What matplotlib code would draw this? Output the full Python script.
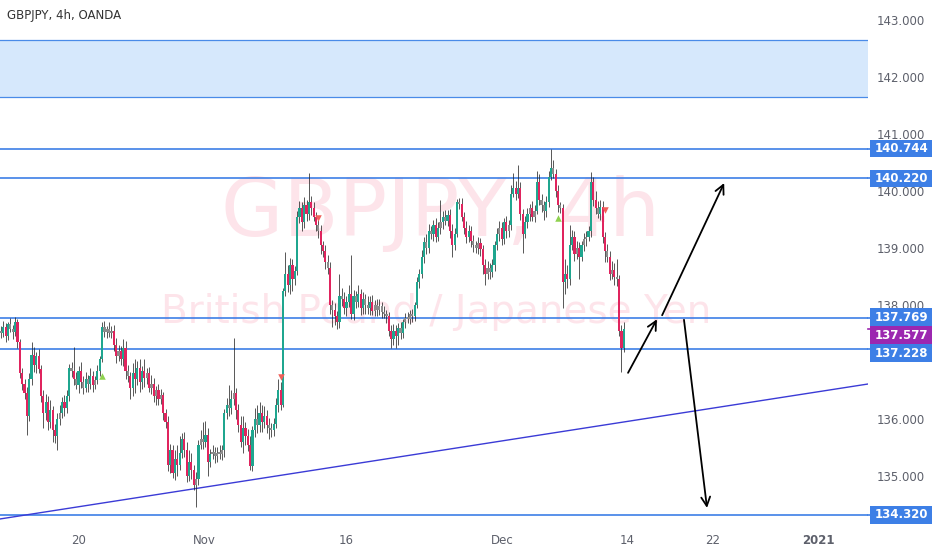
import matplotlib
matplotlib.use("Agg")
import matplotlib.pyplot as plt
import numpy as np
from matplotlib.patches import Rectangle
from matplotlib.transforms import blended_transform_factory

# ---------------- data ----------------
first_open = 137.55
closes = [
 137.50,137.62,137.45,137.66,137.58,137.52,137.70,137.35,136.80,136.62,
 136.45,136.05,136.70,137.12,136.95,137.10,136.88,136.40,136.10,136.30,
 135.95,136.15,135.80,135.70,136.00,136.10,136.30,136.20,136.40,136.90,
 136.85,136.70,136.60,136.85,136.65,136.55,136.70,136.62,136.75,136.60,
 136.68,136.85,137.05,137.62,137.52,137.58,137.50,137.55,137.30,137.10,
 137.20,137.05,137.25,136.85,136.75,136.55,136.80,136.70,136.90,136.65,
 136.85,136.72,136.80,136.55,136.62,136.40,136.50,136.35,136.42,136.10,
 135.95,135.20,135.45,135.05,135.30,135.20,135.40,135.65,135.45,135.00,
 135.25,135.10,134.85,134.95,135.55,135.65,135.60,135.72,135.25,135.38,
 135.42,135.35,135.40,135.38,135.45,136.10,136.25,136.20,136.35,136.45,
 136.15,135.90,135.60,135.85,135.70,135.55,135.18,135.80,136.00,135.90,
 136.10,135.95,136.05,135.90,135.85,135.80,135.92,136.25,136.50,136.25,
 138.25,138.55,138.35,138.70,138.45,138.60,139.55,139.70,139.45,139.75,
 139.60,139.80,139.70,139.55,139.40,139.30,139.05,138.95,138.75,138.65,
 138.00,137.92,137.80,137.70,138.15,138.10,137.95,138.05,138.20,137.85,
 138.15,138.05,138.20,137.95,138.10,138.00,137.95,138.05,137.90,138.00,
 137.92,137.98,137.88,137.85,137.80,137.55,137.40,137.55,137.45,137.60,
 137.50,137.70,137.78,137.75,137.85,137.80,138.00,138.40,138.55,138.85,
 139.10,139.00,139.30,139.25,139.40,139.20,139.35,139.45,139.55,139.48,
 139.58,139.30,139.05,139.25,139.80,139.78,139.55,139.35,139.20,139.30,
 139.12,139.05,139.00,139.08,138.98,138.70,138.55,138.65,138.58,138.70,
 139.05,139.25,139.35,139.15,139.45,139.30,139.40,139.95,140.05,139.95,
 140.05,139.60,139.25,139.45,139.60,139.70,139.55,139.65,140.15,139.85,
 139.75,139.65,139.80,140.25,140.40,140.30,140.00,139.75,139.70,138.40,
 138.55,138.45,139.05,139.20,138.90,139.00,138.85,139.05,139.15,139.20,
 139.30,140.15,139.85,139.70,139.60,139.72,139.20,138.95,138.85,138.55,
 138.62,138.50,138.45,137.55,137.25,137.577]

wick_up = [
 0.08,0.10,0.06,0.05,0.12,0.07,0.09,0.05,0.06,0.10,
 0.08,0.12,0.10,0.23,0.15,0.08,0.12,0.06,0.10,0.14,
 0.10,0.18,0.08,0.12,0.10,0.15,0.08,0.12,0.10,0.06,
 0.10,0.41,0.12,0.08,0.15,0.10,0.12,0.08,0.14,0.10,
 0.08,0.10,0.06,0.08,0.10,0.06,0.12,0.08,0.10,0.12,
 0.10,0.08,0.15,0.12,0.10,0.08,0.18,0.25,0.12,0.15,
 0.08,0.20,0.10,0.12,0.15,0.10,0.08,0.12,0.10,0.06,
 0.08,0.10,0.12,0.10,0.15,0.25,0.30,0.10,0.12,0.15,
 0.20,0.15,0.10,0.12,0.08,0.15,0.30,0.25,0.12,0.10,
 0.12,0.08,0.10,0.15,0.10,0.08,0.12,0.35,0.15,0.97,
 0.10,0.12,0.15,0.20,0.10,0.12,0.15,0.08,0.20,0.25,
 0.20,0.15,0.18,0.10,0.12,0.08,0.10,0.12,0.20,0.15,
 0.05,0.38,0.15,0.12,0.10,0.08,0.10,0.12,0.10,0.15,
 0.10,0.52,0.12,0.10,0.08,0.12,0.10,0.08,0.10,0.12,
 0.10,0.08,0.12,0.10,0.40,0.15,0.12,0.10,0.15,0.68,
 0.12,0.10,0.15,0.08,0.12,0.10,0.15,0.10,0.12,0.08,
 0.10,0.12,0.08,0.10,0.06,0.08,0.10,0.12,0.10,0.08,
 0.10,0.06,0.08,0.10,0.06,0.08,0.05,0.10,0.08,0.12,
 0.10,0.15,0.12,0.08,0.10,0.12,0.10,0.39,0.10,0.12,
 0.08,0.10,0.12,0.10,0.06,0.08,0.10,0.08,0.12,0.10,
 0.08,0.10,0.08,0.12,0.10,0.08,0.10,0.12,0.08,0.10,
 0.08,0.10,0.12,0.10,0.08,0.12,0.10,0.15,0.27,0.12,
 0.40,0.10,0.08,0.12,0.10,0.08,0.12,0.10,0.20,0.15,
 0.10,0.08,0.12,0.10,0.34,0.15,0.08,0.10,0.06,0.08,
 0.25,0.15,0.35,0.12,0.10,0.12,0.10,0.08,0.12,0.10,
 0.08,0.18,0.10,0.15,0.12,0.13,0.10,0.08,0.12,0.10,
 0.15,0.12,0.30,0.08,0.10,0.12]

wick_dn = [
 0.08,0.06,0.10,0.07,0.05,0.12,0.06,0.10,0.08,0.12,
 0.10,0.33,0.08,0.10,0.12,0.15,0.08,0.10,0.26,0.12,
 0.15,0.10,0.20,0.12,0.25,0.10,0.08,0.15,0.10,0.08,
 0.12,0.10,0.08,0.15,0.10,0.12,0.08,0.15,0.10,0.12,
 0.08,0.06,0.10,0.05,0.08,0.10,0.06,0.08,0.10,0.12,
 0.08,0.10,0.12,0.15,0.10,0.20,0.15,0.25,0.10,0.18,
 0.12,0.15,0.10,0.08,0.12,0.10,0.15,0.10,0.08,0.12,
 0.10,0.12,0.15,0.08,0.12,0.20,0.10,0.08,0.12,0.10,
 0.08,0.15,0.10,0.39,0.10,0.08,0.12,0.10,0.25,0.10,
 0.08,0.12,0.10,0.08,0.10,0.12,0.10,0.15,0.12,0.10,
 0.15,0.12,0.10,0.20,0.15,0.12,0.08,0.10,0.12,0.15,
 0.12,0.18,0.10,0.15,0.20,0.12,0.10,0.08,0.12,0.10,
 0.04,0.10,0.12,0.15,0.20,0.10,0.08,0.12,0.15,0.10,
 0.12,0.10,0.12,0.08,0.10,0.12,0.15,0.10,0.12,0.10,
 0.15,0.31,0.15,0.12,0.10,0.12,0.10,0.15,0.08,0.10,
 0.12,0.10,0.08,0.12,0.10,0.15,0.10,0.12,0.08,0.10,
 0.12,0.10,0.10,0.08,0.12,0.10,0.15,0.10,0.20,0.15,
 0.10,0.08,0.10,0.06,0.08,0.10,0.08,0.06,0.10,0.08,
 0.12,0.10,0.08,0.10,0.12,0.10,0.08,0.10,0.12,0.08,
 0.10,0.12,0.20,0.08,0.06,0.10,0.08,0.10,0.12,0.10,
 0.10,0.12,0.08,0.10,0.12,0.15,0.20,0.10,0.12,0.08,
 0.10,0.08,0.12,0.10,0.08,0.12,0.10,0.08,0.06,0.10,
 0.08,0.10,0.34,0.08,0.10,0.12,0.08,0.10,0.06,0.10,
 0.12,0.15,0.10,0.08,0.06,0.08,0.10,0.12,0.08,0.45,
 0.20,0.15,0.10,0.08,0.12,0.10,0.40,0.08,0.10,0.12,
 0.08,0.10,0.12,0.10,0.08,0.10,0.12,0.20,0.10,0.12,
 0.10,0.15,0.12,0.10,0.43,0.08]

# time axis labels at bar positions
tick_pos = [32.8, 86.4, 146.8, 213.2, 266.4, 302.6, 347.7]
tick_labels = ['20', 'Nov', '16', 'Dec', '14', '22', '2021']

# price scale labels
price_ticks = [135.0, 136.0, 138.0, 139.0, 140.0, 141.0, 142.0, 143.0]

# horizontal levels
levels = [140.744, 140.220, 137.769, 137.228, 134.320]
last_price = 137.577
zone = (141.65, 142.65)

# trend line (bar, price)
trend_x = [-0.43, 368.9]
trend_y = [134.246, 136.614]

# arrows: (bar_from, price_from, bar_to, price_to)
arrows = [
    (266.8, 136.81, 279.1, 137.75),
    (281.3, 137.82, 307.7, 140.14),
    (290.6, 137.74, 300.4, 134.44),
]

# signal markers
buy_bars, buy_prices = [43, 237], [136.75, 139.53]
sell_bars, sell_prices = [119, 135, 257], [136.74, 139.53, 139.67]

# ---------------- figure ----------------
W, H = 932, 550
PX = 57.0  # pixels per 1.000 price
fig = plt.figure(figsize=(W / 100, H / 100), dpi=100)
fig.patch.set_facecolor('white')
ax = fig.add_axes([0, 30 / H, 868 / W, 520 / H])
ax.set_facecolor('white')
ymin, ymax = 134.228, 143.351
ax.set_xlim(-0.43, 368.9)
ax.set_ylim(ymin, ymax)
for s in ax.spines.values():
    s.set_visible(False)

# watermark
wm = '#fde4ea'
ax.text(0.508, 0.588, 'GBPJPY, 4h', transform=ax.transAxes, ha='center', va='center',
        fontsize=58, color=wm, zorder=0, family='DejaVu Sans')
ax.text(0.502, 0.40, 'British Pound / Japanese Yen', transform=ax.transAxes, ha='center',
        va='center', fontsize=28, color=wm, zorder=0, family='DejaVu Sans')

# zone
bt = blended_transform_factory(ax.transAxes, ax.transData)
ax.add_patch(Rectangle((0, zone[0]), 1, zone[1] - zone[0], transform=bt,
                       facecolor='#d6e8fc', edgecolor='none', zorder=1))
for z in zone:
    ax.axhline(z, color='#4a8be8', lw=0.9, zorder=1.5)

# candles
closes_a = np.array(closes)
opens_a = np.concatenate([[first_open], closes_a[:-1]])
n = len(closes_a)
x = np.arange(n)
highs = np.maximum(opens_a, closes_a) + np.array(wick_up)
lows = np.minimum(opens_a, closes_a) - np.array(wick_dn)
up_col, dn_col, ne_col = '#1fa68f', '#e0245e', '#8c8c8c'
colors = []
for o, c in zip(opens_a, closes_a):
    if abs(c - o) < 0.1:
        colors.append(ne_col)
    elif c >= o:
        colors.append(up_col)
    else:
        colors.append(dn_col)
ax.vlines(x, lows, highs, color='#2a2a2a', lw=0.55, zorder=3)
body_h = np.maximum(np.abs(closes_a - opens_a), 0.035)
ax.bar(x, body_h, bottom=np.minimum(opens_a, closes_a), width=0.92,
       color=colors, edgecolor='none', zorder=4)

# signals
ax.scatter(buy_bars, buy_prices, marker='^', s=22, color='#8fd14f', zorder=5, linewidths=0)
ax.scatter(sell_bars, sell_prices, marker='v', s=22, color='#f0605a', zorder=5, linewidths=0)

# levels
for lv in levels:
    ax.axhline(lv, color='#3d7fe6', lw=1.2, zorder=2)

# trend line
ax.plot(trend_x, trend_y, color='#3b3bd6', lw=1.0, zorder=2.2)

# arrows
for (x0, y0, x1, y1) in arrows:
    ax.annotate('', xy=(x1, y1), xytext=(x0, y0),
                arrowprops=dict(arrowstyle='->', color='black', lw=1.3,
                                mutation_scale=16, shrinkA=0, shrinkB=0),
                zorder=6)

# axes labels
ax.set_yticks(price_ticks)
ax.set_yticklabels([f'{p:.3f}' for p in price_ticks])
ax.yaxis.tick_right()
ax.tick_params(axis='y', length=0, pad=6, labelsize=8.5, labelcolor='#5d606b')
ax.set_xticks(tick_pos)
ax.set_xticklabels(tick_labels)
ax.tick_params(axis='x', length=0, pad=10, labelsize=8.5, labelcolor='#5d606b')
for lbl in ax.get_xticklabels():
    if lbl.get_text() == '2021':
        lbl.set_fontweight('bold')

# price boxes (labels pushed apart like the price scale does)
box_w = 62 / 868
box_h = 17.5 / PX
def price_box(val, col, shift_px=0.0):
    yc = val - shift_px / PX
    ax.add_patch(Rectangle((1.0025, yc - box_h / 2), box_w, box_h, transform=bt,
                           facecolor=col, edgecolor='none', clip_on=False, zorder=7))
    ax.plot([1.0, 1.0055], [val, val], transform=bt, color=col, lw=1.2,
            clip_on=False, zorder=7)
    ax.text(1.0025 + box_w / 2, yc, f'{val:.3f}', transform=bt, ha='center', va='center',
            color='white', fontsize=8.5, fontweight='bold', clip_on=False, zorder=8)

shifts = {140.744: 0, 140.220: 0, 137.769: -1, 137.228: 4, 134.320: 0}
for lv in levels:
    price_box(lv, '#3d7fe6', shifts[lv])
price_box(last_price, '#9c27b0', 6)

# title
fig.text(7 / W, 1 - 15 / H, 'GBPJPY, 4h, OANDA', ha='left', va='center',
         fontsize=8.5, color='#333333')

fig.savefig('out.png', dpi=100, facecolor='white')
